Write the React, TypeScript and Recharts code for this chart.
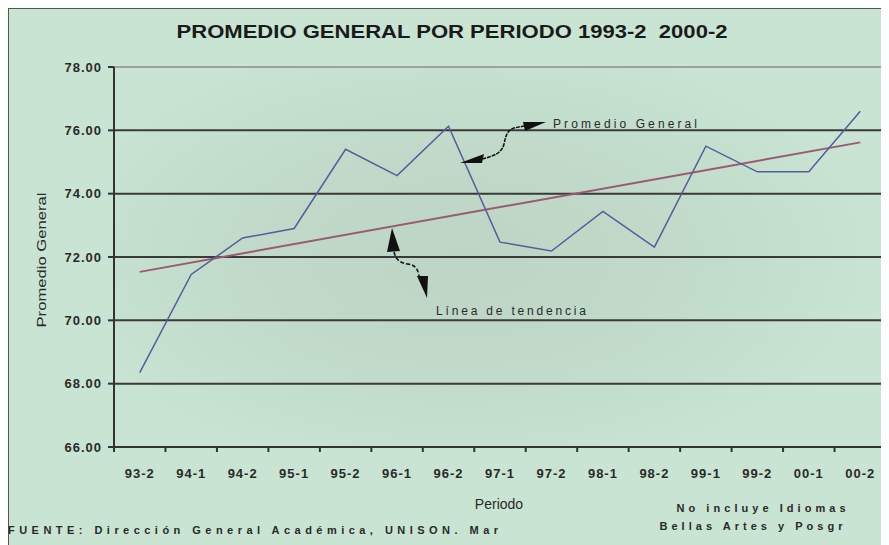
import React from 'react';
import { ComposedChart, Line, XAxis, YAxis, ReferenceLine } from 'recharts';

const periods = ['93-2', '94-1', '94-2', '95-1', '95-2', '96-1', '96-2', '97-1', '97-2', '98-1', '98-2', '99-1', '99-2', '00-1', '00-2'];
const promedio = [68.35, 71.45, 72.6, 72.9, 75.4, 74.57, 76.13, 72.47, 72.19, 73.44, 72.31, 75.5, 74.69, 74.69, 76.6];
const tendencia: (number | null)[] = [71.53, null, null, null, null, null, null, null, null, null, null, null, null, null, 75.62];
const yTicks = [66, 68, 70, 72, 74, 76, 78];
const gridValues = [68, 70, 72, 74, 76];

const data = periods.map((p, i) => ({ period: p, avg: promedio[i], trend: tendencia[i] }));

const W = 881;
const H = 537;
const FONT = '"Liberation Sans", Arial, sans-serif';

const XTick = (props: any) => {
  const { x, y, payload, index, visibleTicksCount } = props;
  const half = payload && typeof payload.offset === 'number' && payload.offset > 0 ? payload.offset : 25.7;
  const last = index === (visibleTicksCount ?? periods.length) - 1;
  return (
    <g>
      <line x1={x - half} x2={x - half} y1={y} y2={y + 5} stroke="#333" strokeWidth={2} />
      {last && <line x1={x + half} x2={x + half} y1={y} y2={y + 5} stroke="#333" strokeWidth={2} />}
      <text x={x} y={y + 26} textAnchor="middle" dominantBaseline="central" fontFamily={FONT} fontSize={13} fontWeight="bold" letterSpacing={1} fill="#2a2a2a">
        {payload.value}
      </text>
    </g>
  );
};

export default function App() {
  return (
    <div style={{ position: 'relative', width: W, height: H, background: '#c9e4d3', overflow: 'hidden' }}>
      <div style={{ position: 'absolute', left: 0, top: -1, width: W, height: 2, background: '#555' }} />
      <div style={{ position: 'absolute', left: -1, top: 0, width: 2, height: H, background: '#555' }} />
      <div
        style={{
          position: 'absolute',
          left: 106,
          top: 59,
          width: 772,
          height: 380,
          background: 'radial-gradient(ellipse 55% 60% at 45% 50%, #bcd5c5 0%, #c0d9c9 45%, #c9e4d3 100%)',
        }}
      />
      <div style={{ position: 'absolute', left: 0, top: 0 }}>
        <ComposedChart width={W} height={H} data={data} margin={{ top: 59, right: 3, left: 0, bottom: 58 }}>
          <XAxis
            dataKey="period"
            scale="band"
            height={40}
            axisLine={{ stroke: '#333', strokeWidth: 2 }}
            tickLine={false}
            tickSize={0}
            tickMargin={0}
            interval={0}
            tick={<XTick />}
          />
          <YAxis
            domain={[66, 78]}
            ticks={yTicks}
            width={106}
            interval={0}
            tickFormatter={(v: number) => v.toFixed(2)}
            axisLine={{ stroke: '#333', strokeWidth: 2 }}
            tickLine={{ stroke: '#333', strokeWidth: 2 }}
            tickSize={6}
            tickMargin={6}
            tick={{ fontFamily: FONT, fontSize: 13, fontWeight: 'bold', fill: '#2a2a2a', letterSpacing: 1 }}
          />
          <YAxis yAxisId="r" orientation="right" width={0} domain={[66, 78]} tick={false} tickLine={false} axisLine={{ stroke: '#8c8c8c', strokeWidth: 1.5 }} />
          <ReferenceLine y={78} stroke="#8c8c8c" strokeWidth={1.5} />
          {gridValues.map((v) => (
            <ReferenceLine key={v} y={v} stroke="#3a3a3a" strokeWidth={2} />
          ))}
          <Line type="linear" dataKey="trend" stroke="#9a5a72" strokeWidth={2} dot={false} connectNulls isAnimationActive={false} />
          <Line type="linear" dataKey="avg" stroke="#5a5a9c" strokeWidth={1.5} dot={false} isAnimationActive={false} />
        </ComposedChart>
      </div>
      <svg width={W} height={H} style={{ position: 'absolute', left: 0, top: 0, pointerEvents: 'none' }}>
        <text x={444} y={23} textAnchor="middle" dominantBaseline="central" fontFamily={FONT} fontSize={19} fontWeight="bold" fill="#1a1a1a" textLength={551} lengthAdjust="spacingAndGlyphs" style={{ whiteSpace: 'pre' }}>
          {'PROMEDIO GENERAL POR PERIODO 1993-2\u00A0 2000-2'}
        </text>
        <text x={34} y={252} textAnchor="middle" dominantBaseline="central" transform="rotate(-90 34 252)" fontFamily={FONT} fontSize={12} fill="#2a2a2a" textLength={135} lengthAdjust="spacingAndGlyphs">
          Promedio General
        </text>
        <text x={491} y={496} textAnchor="middle" dominantBaseline="central" fontFamily={FONT} fontSize={14} fill="#2a2a2a">
          Periodo
        </text>
        <text x={753} y={500} textAnchor="middle" dominantBaseline="central" fontFamily={FONT} fontSize={11} fontWeight="bold" fill="#2a2a2a" textLength={169} lengthAdjust="spacing">
          No incluye Idiomas
        </text>
        <text x={743} y={518} textAnchor="middle" dominantBaseline="central" fontFamily={FONT} fontSize={11} fontWeight="bold" fill="#2a2a2a" textLength={183} lengthAdjust="spacing">
          Bellas Artes y Posgr
        </text>
        <text x={0} y={522} dominantBaseline="central" fontFamily={FONT} fontSize={11} fontWeight="bold" fill="#2a2a2a" textLength={490} lengthAdjust="spacing">
          FUENTE: Dirección General Académica, UNISON. Mar
        </text>
        <text x={545} y={116} dominantBaseline="central" fontFamily={FONT} fontSize={12} fill="#2a2a2a" textLength={144} lengthAdjust="spacing">
          Promedio General
        </text>
        <text x={428} y={303} dominantBaseline="central" fontFamily={FONT} fontSize={12} fill="#2a2a2a" textLength={150} lengthAdjust="spacing">
          Línea de tendencia
        </text>
        {/* Promedio General arrow */}
        <polygon points="452,155 476,146 474,155" fill="#111" />
        <path d="M474,151 C486,148 494,145 496,136 C498,126 500,122 506,120 L516,118" stroke="#111" strokeWidth={1.5} fill="none" strokeDasharray="4 1" />
        <polygon points="515,114 538,114 517,123" fill="#111" />
        {/* Linea de tendencia arrow */}
        <polygon points="384,220 379,244 392,243" fill="#111" />
        <path d="M386,244 C388,252 392,255 400,256 C408,257 410,262 411,268" stroke="#111" strokeWidth={1.5} fill="none" strokeDasharray="4 2" />
        <polygon points="409,268 420,268 419,290" fill="#111" />
      </svg>
    </div>
  );
}
